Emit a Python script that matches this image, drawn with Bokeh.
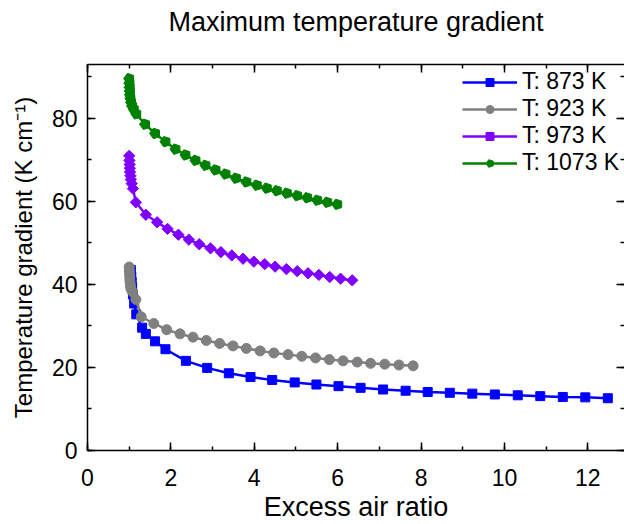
import math
from bokeh.plotting import figure
from bokeh.models import Range1d, LinearAxis, SingleIntervalTicker, Legend
from bokeh.embed import file_html
from bokeh.resources import INLINE

# ---- data ----
x_873 = [1.04, 1.05, 1.06, 1.07, 1.09, 1.12, 1.17, 1.31, 1.40, 1.62, 1.87, 2.36, 2.87, 3.39, 3.91,
         4.43, 4.97, 5.49, 6.02, 6.55, 7.09, 7.63, 8.16, 8.69, 9.23, 9.77, 10.32, 10.86, 11.40, 11.94, 12.48]
y_873 = [43.5, 42.0, 40.6, 39.3, 37.6, 35.4, 32.8, 29.6, 28.1, 26.3, 24.4, 21.6, 19.9, 18.6, 17.7,
         17.0, 16.4, 15.9, 15.5, 15.1, 14.7, 14.4, 14.1, 13.9, 13.7, 13.5, 13.3, 13.1, 12.9, 12.8, 12.6]

x_923 = [1.00, 1.005, 1.01, 1.015, 1.02, 1.03, 1.04, 1.08, 1.16, 1.29, 1.59, 1.90, 2.22, 2.53, 2.85,
         3.17, 3.49, 3.81, 4.14, 4.47, 4.81, 5.14, 5.47, 5.80, 6.13, 6.47, 6.79, 7.13, 7.47, 7.81]
y_923 = [44.2, 43.2, 42.3, 41.4, 40.6, 39.8, 39.0, 38.2, 36.4, 32.2, 30.6, 29.1, 28.1, 27.3, 26.5,
         25.8, 25.2, 24.6, 24.0, 23.5, 23.1, 22.7, 22.3, 21.9, 21.6, 21.3, 21.0, 20.8, 20.6, 20.4]

x_973 = [1.00, 1.005, 1.01, 1.015, 1.02, 1.03, 1.04, 1.06, 1.09, 1.16, 1.40, 1.67, 1.92, 2.18, 2.43,
         2.68, 2.95, 3.20, 3.46, 3.73, 3.99, 4.25, 4.50, 4.77, 5.03, 5.29, 5.55, 5.81, 6.07, 6.35]
y_973 = [71.0, 69.9, 68.9, 68.0, 67.1, 66.2, 65.3, 64.3, 63.1, 59.8, 56.8, 55.0, 53.4, 52.0, 50.8,
         49.7, 48.7, 47.8, 47.0, 46.2, 45.5, 44.9, 44.3, 43.7, 43.2, 42.7, 42.3, 41.8, 41.4, 41.0]

x_1073 = [1.00, 1.005, 1.01, 1.015, 1.02, 1.03, 1.045, 1.07, 1.11, 1.17, 1.38, 1.62, 1.87, 2.11, 2.35,
          2.59, 2.83, 3.07, 3.31, 3.56, 3.81, 4.06, 4.30, 4.54, 4.78, 5.03, 5.27, 5.51, 5.75, 5.99]
y_1073 = [89.6, 88.5, 87.5, 86.6, 85.7, 84.8, 83.9, 83.0, 82.2, 81.1, 78.6, 76.4, 74.4, 72.6, 71.2,
          69.9, 68.7, 67.6, 66.6, 65.6, 64.7, 63.9, 63.2, 62.6, 62.0, 61.4, 60.9, 60.3, 59.8, 59.3]

labels = ["T: 873 K", "T: 923 K", "T: 973 K", "T: 1073 K"]
colors = ["#0000FF", "#808080", "#8000FF", "#008000"]
title_text = "Maximum temperature gradient"

FONT = "Liberation Sans"

p = figure(width=624, height=524, output_backend="svg", toolbar_location=None,
           x_range=Range1d(0, 12.88), y_range=Range1d(0, 93),
           min_border_left=87, min_border_right=0, min_border_top=64, min_border_bottom=74)
p.xgrid.visible = False
p.ygrid.visible = False
p.outline_line_color = None
p.background_fill_color = "white"
p.border_fill_color = "white"

xt = SingleIntervalTicker(interval=2, num_minor_ticks=2)
yt = SingleIntervalTicker(interval=20, num_minor_ticks=2)

def style_axis(ax, show_labels=True, show_line=True):
    ax.axis_line_color = "black" if show_line else None
    ax.axis_line_width = 1.5
    ax.major_tick_in = 8
    ax.major_tick_out = 0
    ax.minor_tick_in = 4
    ax.minor_tick_out = 0
    ax.major_tick_line_color = "black"
    ax.minor_tick_line_color = "black"
    ax.major_tick_line_width = 1.5
    ax.minor_tick_line_width = 1.5
    ax.major_label_text_font = FONT
    ax.major_label_text_color = "black"
    ax.axis_label_text_font = FONT
    ax.axis_label_text_font_style = "normal"
    ax.axis_label_text_color = "black"
    if not show_labels:
        # frame-side ticks only: labels are not painted
        ax.major_label_text_color = None
        ax.major_label_text_font_size = "1px"
        ax.major_label_standoff = 0

p.xaxis.ticker = xt
p.yaxis.ticker = yt
for ax in p.xaxis + p.yaxis:
    style_axis(ax)
p.xaxis.major_label_text_font_size = "23px"
p.yaxis.major_label_text_font_size = "23px"
p.xaxis.axis_label = "Excess air ratio"
p.yaxis.axis_label = "Temperature gradient (K cm\u207b\u00b9)"
p.xaxis.axis_label_text_font_size = "27px"
p.yaxis.axis_label_text_font_size = "24px"
p.xaxis.major_label_standoff = 18
p.yaxis.major_label_standoff = 10
p.xaxis.axis_label_standoff = 3
p.yaxis.axis_label_standoff = 12

# top frame axis carries the chart heading
top_ax = LinearAxis(ticker=SingleIntervalTicker(interval=2, num_minor_ticks=2))
style_axis(top_ax, show_labels=False)
top_ax.axis_label = title_text
top_ax.axis_label_text_font_size = "27px"
top_ax.axis_label_standoff = 28
p.add_layout(top_ax, "above")
right_ax = LinearAxis(ticker=SingleIntervalTicker(interval=20, num_minor_ticks=2))
style_axis(right_ax, show_labels=False, show_line=False)
p.add_layout(right_ax, "right")

items = []
# 873 K - squares
l1 = p.line(x_873, y_873, line_color=colors[0], line_width=2.5)
m1 = p.scatter(x_873, y_873, marker="square", size=9, fill_color=colors[0], line_color=colors[0])
items.append((labels[0], [l1, m1]))
# 923 K - circles
l2 = p.line(x_923, y_923, line_color=colors[1], line_width=2.5)
m2 = p.scatter(x_923, y_923, marker="circle", size=10, fill_color=colors[1], line_color=colors[1])
items.append((labels[1], [l2, m2]))
# 973 K - diamonds
l3 = p.line(x_973, y_973, line_color=colors[2], line_width=2.5)
m3 = p.scatter(x_973, y_973, marker="square", angle=math.pi / 4, size=8,
               fill_color=colors[2], line_color=colors[2])
items.append((labels[2], [l3, m3]))
# 1073 K - pentagons
l4 = p.line(x_1073, y_1073, line_color=colors[3], line_width=2.5)
m4 = p.ngon(x=x_1073, y=y_1073, radius=5.5, radius_units="screen", n=5, angle=math.pi / 2,
            fill_color=colors[3], line_color=colors[3])
items.append((labels[3], [l4, m4]))

legend = Legend(items=items, location=(375, 274))
legend.border_line_color = None
legend.background_fill_alpha = 0
legend.padding = 0
legend.margin = 0
legend.spacing = 0
legend.glyph_width = 55
legend.glyph_height = 20
legend.label_standoff = 5
legend.label_text_font = FONT
legend.label_text_font_size = "23px"
legend.label_text_color = "black"
p.add_layout(legend, "center")

open("out.html", "w").write(file_html(p, INLINE))
